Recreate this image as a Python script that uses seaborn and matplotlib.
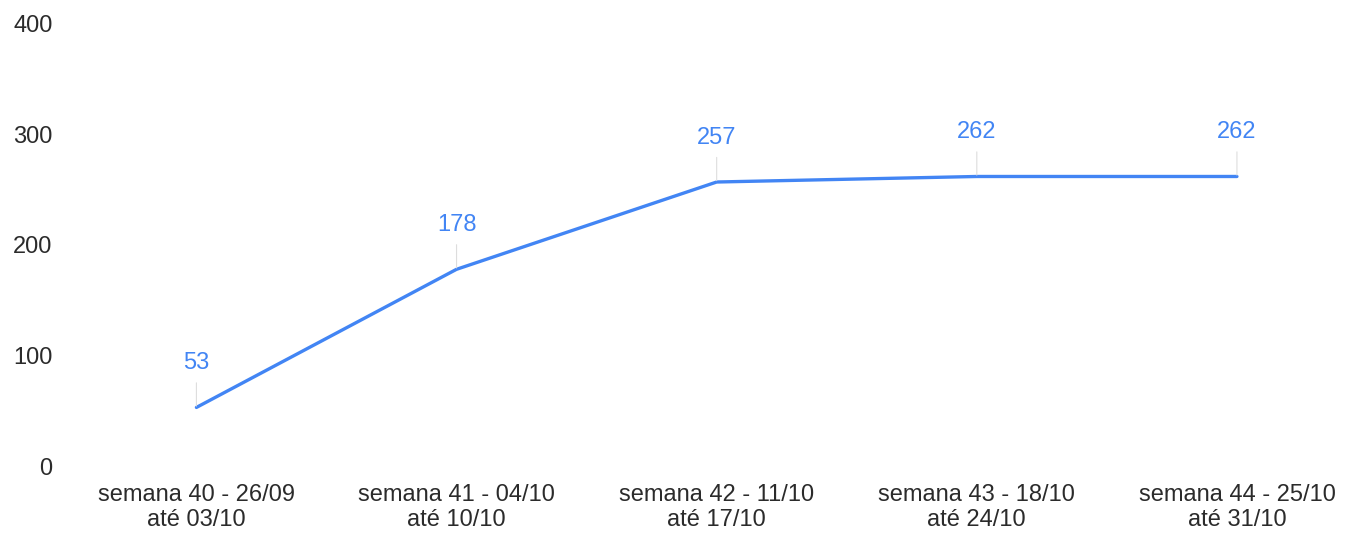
import pandas as pd
import matplotlib
matplotlib.use('Agg')
import matplotlib.pyplot as plt
import seaborn as sns

# Dados do gráfico
semanas = ['semana 40 - 26/09\naté 03/10', 'semana 41 - 04/10\naté 10/10',
           'semana 42 - 11/10\naté 17/10', 'semana 43 - 18/10\naté 24/10',
           'semana 44 - 25/10\naté 31/10']
casos = [53, 178, 257, 262, 262]
y_ticks = [0, 100, 200, 300, 400]

df = pd.DataFrame({'semana': semanas, 'casos': casos})
df['pos'] = range(len(df))

sns.set_style('white')
plt.rcParams['font.family'] = ['Liberation Sans', 'DejaVu Sans']

fig = plt.figure(figsize=(13.54, 5.33), dpi=100)
ax = fig.add_axes([0.049, 0.1257, 0.951, 0.8293])

cor = '#4285F4'
sns.lineplot(data=df, x='pos', y='casos', color=cor, linewidth=2.4, ax=ax)

# Rótulos com linha guia
for _, row in df.iterrows():
    ax.annotate(str(row['casos']), xy=(row['pos'], row['casos']),
                xytext=(0, 32), textcoords='offset points',
                ha='center', va='center', fontsize=17, color=cor,
                arrowprops=dict(arrowstyle='-', color='#dddddd', lw=0.8,
                                shrinkA=4, shrinkB=1))

ax.set_xlim(-0.5, 4.45)
ax.set_ylim(0, 400)
ax.set_yticks(y_ticks)
ax.set_xticks(df['pos'])
ax.set_xticklabels(semanas, linespacing=1.2)
ax.tick_params(axis='both', length=0, labelsize=17, colors='#2b2b2b')
ax.tick_params(axis='x', pad=13)
ax.tick_params(axis='y', pad=10)
ax.set_xlabel('')
ax.set_ylabel('')
sns.despine(ax=ax, left=True, bottom=True)

fig.savefig('out.png', dpi=100)
